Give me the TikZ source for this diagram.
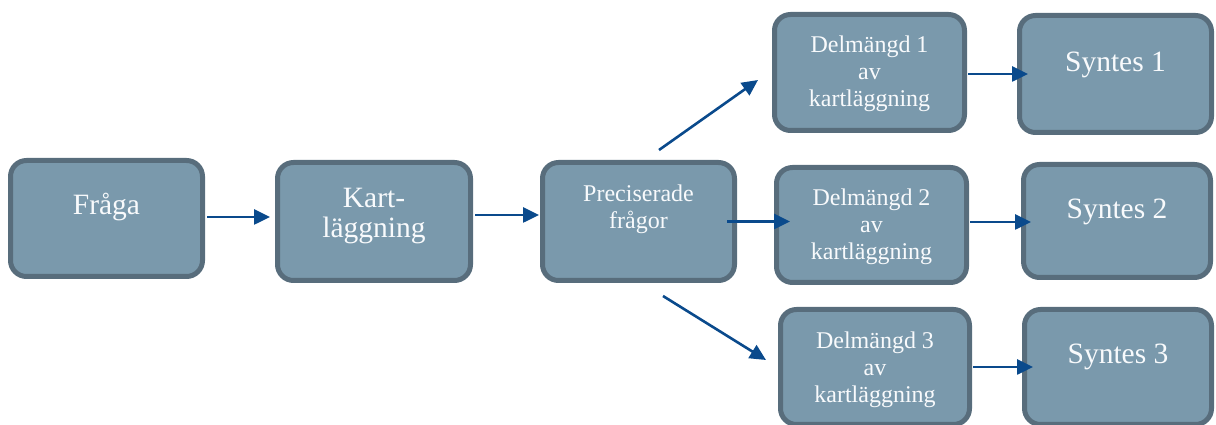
\documentclass[tikz,border=0pt]{standalone}
\usepackage{fontspec}
\setmainfont{Liberation Serif}
\usetikzlibrary{arrows.meta,calc}
\definecolor{boxfill}{RGB}{122,153,172}
\definecolor{boxline}{RGB}{88,109,124}
\definecolor{arrowblue}{RGB}{10,74,140}
\definecolor{boxtext}{RGB}{248,250,252}
\tikzset{
  stepbox/.style={draw=boxline, fill=boxfill, line width=5pt, rounded corners=16pt, inner sep=0pt},
  bigtext/.style={text=boxtext, align=center, anchor=base, inner sep=0pt, font=\fontsize{29.5}{30}\selectfont},
  smalltext/.style={text=boxtext, align=center, anchor=base, inner sep=0pt, font=\fontsize{24}{27}\selectfont},
  arr/.style={draw=arrowblue, line width=2.6pt, -{Triangle[length=16pt,width=15pt]}, fill=arrowblue}
}
\begin{document}
\begin{tikzpicture}[x=1pt,y=1pt]
\useasboundingbox (0,0) rectangle (1216,425);
% boxes
\node[stepbox, minimum width=192pt, minimum height=116pt] (fraga) at (106.5,206.5) {};
\node[stepbox, minimum width=193pt, minimum height=118pt] (kart) at (374,203.5) {};
\node[stepbox, minimum width=192pt, minimum height=118pt] (prec) at (638.5,203.5) {};
\node[stepbox, minimum width=190pt, minimum height=116pt] (d1) at (869.5,352.5) {};
\node[stepbox, minimum width=190pt, minimum height=115pt] (d2) at (871.5,200) {};
\node[stepbox, minimum width=189pt, minimum height=115pt] (d3) at (875,58) {};
\node[stepbox, minimum width=192pt, minimum height=117pt] (s1) at (1115.5,351) {};
\node[stepbox, minimum width=187pt, minimum height=113pt] (s2) at (1117,204) {};
\node[stepbox, minimum width=187pt, minimum height=115pt] (s3) at (1118,58) {};
% texts (anchor base = baseline of last line)
\node[bigtext] (tfraga) at (106.5,210) {Fråga};
\node[bigtext] (tkart) at (374,187) {Kart-\\läggning};
\node[smalltext] (tprec) at (638.5,196) {Preciserade\\frågor};
\node[smalltext] (td1) at (869.5,318) {Delmängd 1\\av\\kartläggning};
\node[smalltext] (td2) at (871.5,165) {Delmängd 2\\av\\kartläggning};
\node[smalltext] (td3) at (875,22) {Delmängd 3\\av\\kartläggning};
\node[bigtext] (ts1) at (1115.5,353) {Syntes 1};
\node[bigtext] (ts2) at (1117,206) {Syntes 2};
\node[bigtext] (ts3) at (1118,61) {Syntes 3};
% arrows
\draw[arr] ($(fraga.east)+(2,1.5)$) -- ($(kart.west |- fraga.east)+(-5,1.5)$);
\draw[arr] ($(kart.east)+(2,6.5)$) -- ($(prec.west |- kart.east)+(-1,6.5)$);
\draw[arr] ($(prec.north)+(20.5,10)$) -- ($(d1.west)+(-14,-7.5)$);
\draw[arr] ($(prec.east)+(-10,0)$) -- ($(d2.west |- prec.east)+(16,0)$);
\draw[arr] ($(prec.south)+(24.5,-13)$) -- ($(d3.west)+(-12,7)$);
\draw[arr] ($(d1.east)+(1,-1.5)$) -- ($(s1.west |- d1.east)+(11,-1.5)$);
\draw[arr] ($(d2.east)+(1,3)$) -- ($(s2.west |- d2.east)+(10,3)$);
\draw[arr] ($(d3.east)+(1,0)$) -- ($(s3.west |- d3.east)+(11,0)$);
\end{tikzpicture}
\end{document}
